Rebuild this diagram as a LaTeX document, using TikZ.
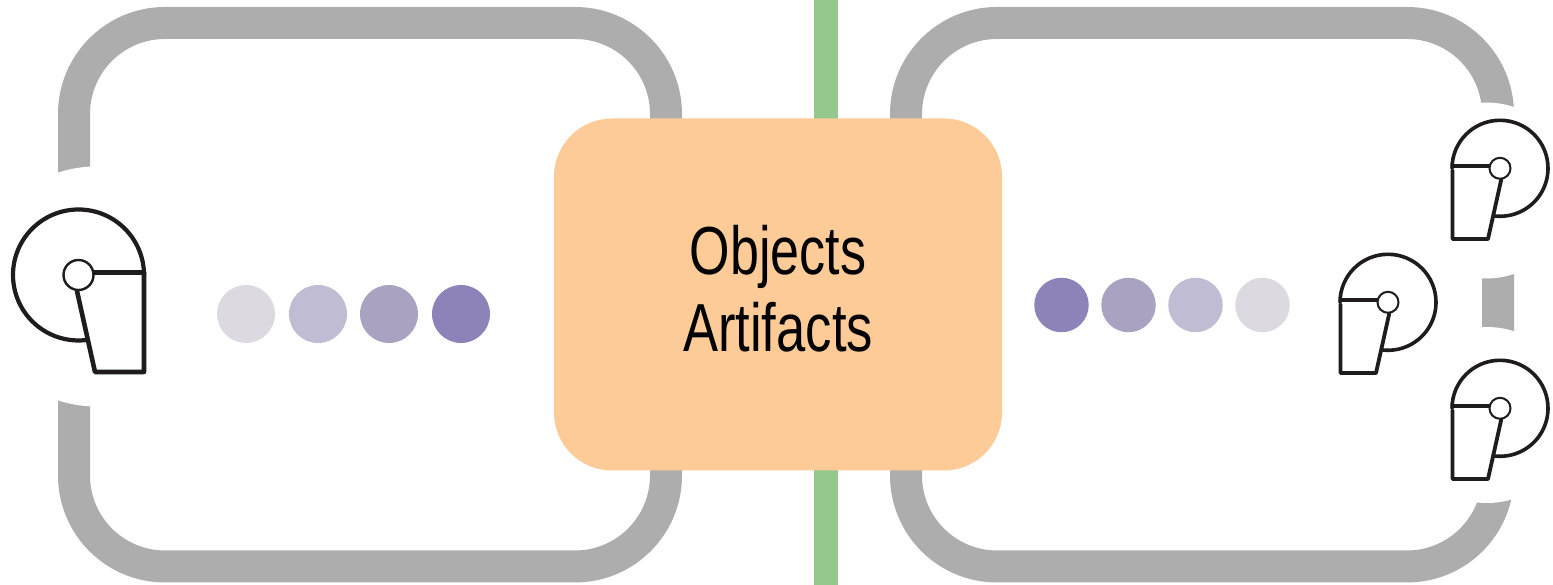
\documentclass[tikz,border=0pt]{standalone}
\usepackage{fontspec}
\setmainfont{Liberation Sans}
\definecolor{loopgray}{HTML}{ADADAD}
\definecolor{bargreen}{HTML}{93C78E}
\definecolor{boxorange}{HTML}{FDCB97}
\definecolor{dotA}{HTML}{DDD9E0}
\definecolor{dotB}{HTML}{BFBCD3}
\definecolor{dotC}{HTML}{A9A2C1}
\definecolor{dotD}{HTML}{8E83B8}
\definecolor{inkc}{HTML}{1E1C1C}
\tikzset{
  loopline/.style={draw=loopgray,line width=32pt,rounded corners=91pt},
  maskdisc/.style={fill=white,draw=none},
  ink/.style={draw=inkc,line join=round,line cap=round},
  head/.style={circle,draw=inkc,fill=white,inner sep=0pt,outer sep=0pt},
  bigdot/.style={circle,inner sep=0pt,minimum size=58pt,draw=none},
  smalldot/.style={circle,inner sep=0pt,minimum size=54.5pt,draw=none},
  orangebox/.style={fill=boxorange,rounded corners=58pt,minimum width=448pt,minimum height=352pt,inner sep=0pt,draw=none},
}
\newcommand{\rightfigure}[3]{%
  \begin{scope}[shift={(#1,#2)}]
    \draw[ink,line width=3.8pt] (-47.5,-2) -- (-47.5,-70.7) -- (-12,-70.7) -- (1.3,-11);
    \draw[ink,line width=3.8pt] (-47.5,2.3) -- (-11,2.3);
    \draw[ink,line width=3.6pt] (-48,0) arc[start angle=180,end angle=-96,radius=48pt];
    \node[head,minimum size=21pt,line width=2pt] (#3) at (0,0) {};
  \end{scope}}
\begin{document}
\begin{tikzpicture}[x=1pt,y=1pt]
\useasboundingbox (0,0) rectangle (1553,585);
% green bar
\fill[bargreen] (814,0) rectangle (838,585);
% gray loops
\draw[loopline] (74,18.5) rectangle (666,562);
\draw[loopline] (906,18.5) rectangle (1498,562);
\fill[maskdisc] (96,298.5) circle[radius=120pt];
\fill[maskdisc] (1486,394.5) circle[radius=88pt];
\fill[maskdisc] (1487,170) circle[radius=88pt];
% central box
\node[orangebox] (box) at (778,290.5) {};
\node[align=center,inner sep=0pt,font=\fontsize{68}{77}\selectfont] (label) at (778,296)
  {\scalebox{.765}[1]{Objects}\\\scalebox{.773}[1]{Artifacts}};
% dots
\node[bigdot,fill=dotA] (l1) at (246,271) {};
\node[bigdot,fill=dotB] (l2) at (318,271) {};
\node[bigdot,fill=dotC] (l3) at (389,271) {};
\node[bigdot,fill=dotD] (l4) at (461,271) {};
\node[smalldot,fill=dotD] (r1) at (1061.5,280) {};
\node[smalldot,fill=dotC] (r2) at (1128.5,280) {};
\node[smalldot,fill=dotB] (r3) at (1195.5,280) {};
\node[smalldot,fill=dotA] (r4) at (1262.5,280) {};
% left figure
\begin{scope}[shift={(78.5,310)}]
  \draw[ink,line width=4.6pt] (65.5,2) -- (65.5,-97) -- (16.5,-97) -- (-1.5,-16);
  \draw[ink,line width=4.6pt] (14,2.3) -- (65.5,2.3);
  \draw[ink,line width=4.2pt] (65.5,0) arc[start angle=0,end angle=277,radius=65.5pt];
  \node[head,minimum size=30pt,line width=2.4pt] (lefthead) at (0,0) {};
\end{scope}
% right figures
\rightfigure{1500}{416.7}{toph}
\rightfigure{1388}{282.7}{midh}
\rightfigure{1500}{176.7}{both}
\end{tikzpicture}
\end{document}
